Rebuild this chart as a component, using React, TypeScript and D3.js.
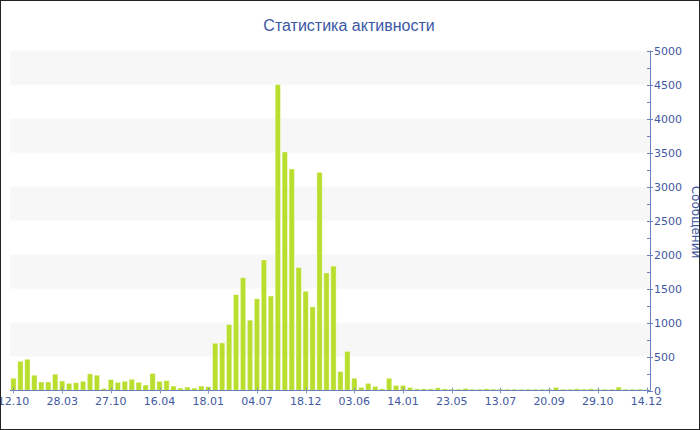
import React from "react";
import * as d3 from "d3";

const titleText = "Статистика активности";
const yAxisTitle = "Сообщений";

// values per category (92 categories)
const values: number[] = [
  180, 430, 460, 225, 125, 125, 240, 140, 105, 115, 135, 245, 225, 30, 160,
  120, 135, 165, 120, 80, 250, 135, 145, 65, 35, 50, 35, 65, 55,
  695, 700, 970, 1410, 1660, 1035, 1350, 1920, 1390, 4500, 3510, 3260, 1810, 1460, 1230, 3210, 1730, 1830,
  280, 575, 180, 45, 105, 60, 25, 180, 75, 75, 45, 25, 25, 25, 40, 25,
  20, 20, 30, 20, 20, 25, 20, 20, 20, 20, 20, 20, 20, 20, 20, 45, 20, 20, 25, 20, 25, 20, 20, 20, 50, 20, 20, 20, 15,
];

// labels shown every 7th category
const tickLabels: string[] = [
  "12.10", "28.03", "27.10", "16.04", "18.01", "04.07", "18.12",
  "03.06", "14.01", "23.05", "13.07", "20.09", "29.10", "14.12",
];
const labelStep = 7;

const yMax = 5000;
const yTickStep = 500;

const W = 700;
const H = 430;
const plotLeft = 10;
const plotRight = 650;
const plotTop = 50.7;
const plotBottom = 390.5;

const font = "DejaVu Sans, Verdana, sans-serif";
const titleFont = "Liberation Sans, Arial, sans-serif";
const textColor = "#4259a0";
const axisColor = "#6a7fbf";
const barColor = "#bade2e";

export default function App() {
  const idx = values.map((_, i) => i);
  const x = d3
    .scaleBand<number>()
    .domain(idx)
    .range([plotLeft, plotRight])
    .paddingInner(0.24)
    .paddingOuter(0.12);
  const y = d3.scaleLinear().domain([0, yMax]).range([plotBottom, plotTop]);

  const majorTicks = d3.range(0, yMax + 1, yTickStep);
  const minorTicks = d3.range(yTickStep / 2, yMax, yTickStep);
  const bands = d3.range(yTickStep, yMax, yTickStep * 2);

  const cx = (i: number) => (x(i) as number) + x.bandwidth() / 2;

  return (
    <svg
      width={W}
      height={H}
      style={{ position: "fixed", left: 0, top: 0, background: "#fff" }}
    >
      <rect x={0} y={0} width={W} height={H} fill="#fff" />
      {bands.map((b) => (
        <rect
          key={"band" + b}
          x={plotLeft}
          width={plotRight - plotLeft}
          y={y(b + yTickStep)}
          height={y(b) - y(b + yTickStep)}
          fill="#f7f7f7"
        />
      ))}
      <text
        x={349}
        y={31}
        textAnchor="middle"
        fontFamily={titleFont}
        fontSize={16}
        fill="#3a58a6"
      >
        {titleText}
      </text>
      {values.map((v, i) => (
        <rect
          key={"bar" + i}
          x={x(i)}
          y={y(v)}
          width={x.bandwidth()}
          height={Math.max(0, plotBottom - y(v))}
          fill={barColor}
          stroke="#ffffff"
          strokeOpacity={0.45}
          strokeWidth={0.8}
        />
      ))}
      {/* x axis */}
      <line
        x1={plotLeft}
        x2={plotRight}
        y1={plotBottom}
        y2={plotBottom}
        stroke={axisColor}
        strokeWidth={1}
      />
      {tickLabels.map((lab, k) => {
        const i = k * labelStep;
        const px = Math.round(cx(i)) + 0.5;
        return (
          <g key={"xt" + k}>
            <line x1={px} x2={px} y1={plotBottom - 3} y2={plotBottom + 3} stroke="#8a96b8" />
            <text
              x={cx(i)}
              y={405}
              textAnchor="middle"
              fontFamily={font}
              fontSize={11}
              fill={textColor}
            >
              {lab}
            </text>
          </g>
        );
      })}
      {/* y axis (right) */}
      <line
        x1={plotRight + 0.5}
        x2={plotRight + 0.5}
        y1={plotTop}
        y2={plotBottom}
        stroke={axisColor}
        strokeWidth={1}
      />
      {minorTicks.map((t) => (
        <line
          key={"mi" + t}
          x1={plotRight - 3}
          x2={plotRight}
          y1={Math.round(y(t)) + 0.5}
          y2={Math.round(y(t)) + 0.5}
          stroke={axisColor}
        />
      ))}
      {majorTicks.map((t) => (
        <g key={"ma" + t}>
          <line
            x1={plotRight - 3}
            x2={plotRight + 3}
            y1={Math.round(y(t)) + 0.5}
            y2={Math.round(y(t)) + 0.5}
            stroke={axisColor}
          />
          <text
            x={654}
            y={y(t) + 4}
            fontFamily={font}
            fontSize={11}
            fill={textColor}
          >
            {t}
          </text>
        </g>
      ))}
      <text
        transform={`translate(692,222) rotate(90)`}
        textAnchor="middle"
        fontFamily={font}
        fontSize={12}
        fill={textColor}
      >
        {yAxisTitle}
      </text>
      <rect
        x={0.5}
        y={0.5}
        width={W - 1}
        height={H - 1}
        fill="none"
        stroke="#222"
        strokeWidth={1}
      />
    </svg>
  );
}
